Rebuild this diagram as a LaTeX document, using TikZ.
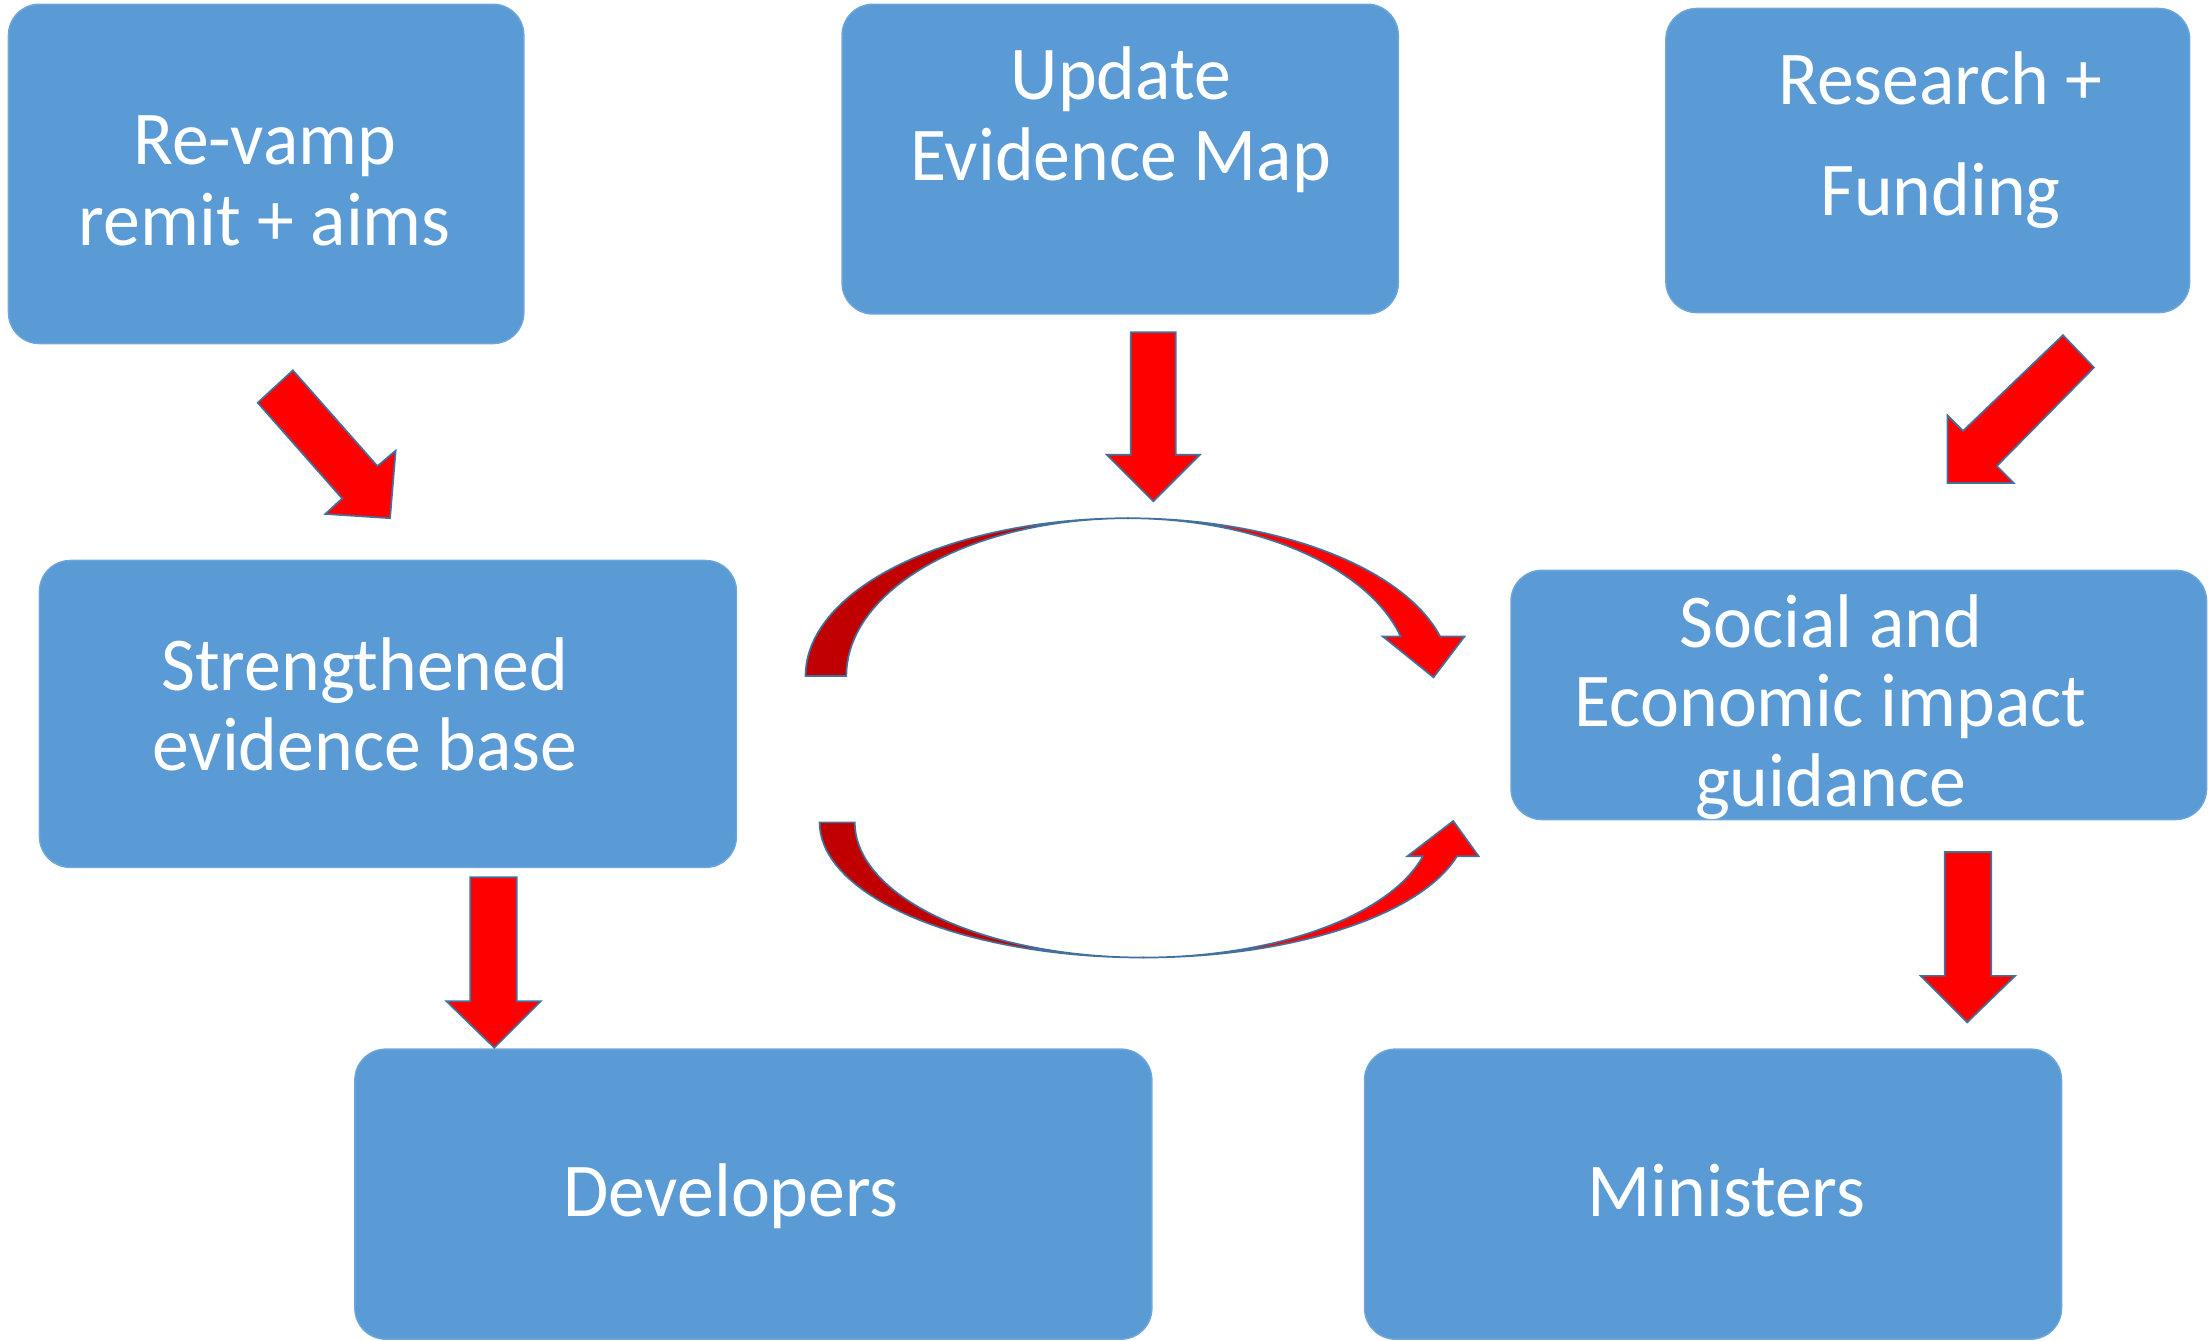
\documentclass[tikz,border=0pt]{standalone}
\usepackage{fontspec}
\setmainfont{Carlito}[FakeStretch=0.97]
\definecolor{boxblue}{HTML}{5B9BD5}
\definecolor{boxedge}{HTML}{6CA6DA}
\definecolor{arrred}{HTML}{FF0000}
\definecolor{arrdark}{HTML}{C00000}
\definecolor{arredge}{HTML}{41719C}
\begin{document}
\begin{tikzpicture}[x=0.5pt,y=-0.5pt,
  box/.style={draw=boxedge, fill=boxblue, rounded corners=11pt, line width=0.5pt, inner sep=0pt},
  lbl/.style={anchor=base, inner sep=0pt, text=white, font=\fontsize{27}{29}\selectfont},
  blockarrow/.style={fill=arrred, draw=arredge, line width=0.6pt, line join=miter},
  backarrow/.style={fill=arrdark, draw=arredge, line width=0.6pt}]
\useasboundingbox (0,0) rectangle (1568,952);

% boxes
\node[box, minimum width=183pt, minimum height=120.5pt] (revamp) at (189,123.5) {};
\node[box, minimum width=197.5pt, minimum height=110pt] (update) at (795.5,113) {};
\node[box, minimum width=186pt, minimum height=108pt] (research) at (1369,114) {};
\node[box, minimum width=247.5pt, minimum height=109pt] (strength) at (275.5,507) {};
\node[box, minimum width=247pt, minimum height=88.5pt] (social) at (1320,493.5) {};
\node[box, minimum width=283pt, minimum height=103pt] (dev) at (535,848) {};
\node[box, minimum width=247.5pt, minimum height=103pt] (min) at (1216.5,848) {};

% labels
\node[lbl] (t1a) at (188,117) {Re-vamp};
\node[lbl] (t1b) at (188,174) {remit + aims};
\node[lbl] (t2a) at (796,71) {Update};
\node[lbl] (t2b) at (796,128) {Evidence Map};
\node[lbl] (t3a) at (1378,74) {Research +};
\node[lbl] (t3b) at (1378,153) {Funding};
\node[lbl] (t4a) at (259,490) {Strengthened};
\node[lbl] (t4b) at (259,547) {evidence base};
\node[lbl] (t5a) at (1300,460) {Social and};
\node[lbl] (t5b) at (1300,516) {Economic impact};
\node[lbl] (t5c) at (1300,573) {guidance};
\node[lbl] (t6) at (519,864) {Developers};
\node[lbl] (t7) at (1226,864) {Ministers};

% straight block arrows
\draw[blockarrow] (183,286) -- (208,263) -- (268,331) -- (281,320) -- (277,368) -- (231,365) -- (243,354) -- cycle;
\draw[blockarrow] (803,236) -- (835,236) -- (835,323) -- (852,323) -- (819,356) -- (786,323) -- (803,323) -- cycle;
\draw[blockarrow] (1465,238) -- (1487,261) -- (1418,331) -- (1430,343) -- (1383,343) -- (1383,295) -- (1394,306) -- cycle;
\draw[blockarrow] (334,623) -- (367,623) -- (367,711) -- (384,711) -- (351,744) -- (317,711) -- (334,711) -- cycle;
\draw[blockarrow] (1381,605) -- (1414,605) -- (1414,693) -- (1431,693) -- (1397,726) -- (1364,693) -- (1381,693) -- cycle;

% upper curved arrow
\draw[backarrow] plot[domain=180:90, samples=40, variable=\t] ({801+229*cos(\t)},{480-112*sin(\t)})
  -- plot[domain=90:180, samples=40, variable=\t] ({801+200*cos(\t)},{480-112*sin(\t)}) -- cycle;
\draw[blockarrow] plot[domain=90:14.5, samples=40, variable=\t] ({801+229*cos(\t)},{480-112*sin(\t)})
  -- (1040,452) -- (1018,481) -- (982,452)
  -- plot[domain=14.5:90, samples=40, variable=\t] ({801+200*cos(\t)},{480-112*sin(\t)}) -- cycle;

% lower curved arrow
\draw[backarrow] plot[domain=180:90, samples=40, variable=\t] ({812+230*cos(\t)},{584+96*sin(\t)})
  -- plot[domain=90:180, samples=40, variable=\t] ({812+205*cos(\t)},{584+96*sin(\t)}) -- cycle;
\draw[blockarrow] plot[domain=90:14.5, samples=40, variable=\t] ({812+230*cos(\t)},{584+96*sin(\t)})
  -- (1050,608) -- (1032,583) -- (999.5,608)
  -- plot[domain=14.5:90, samples=40, variable=\t] ({812+205*cos(\t)},{584+96*sin(\t)}) -- cycle;
\end{tikzpicture}
\end{document}
